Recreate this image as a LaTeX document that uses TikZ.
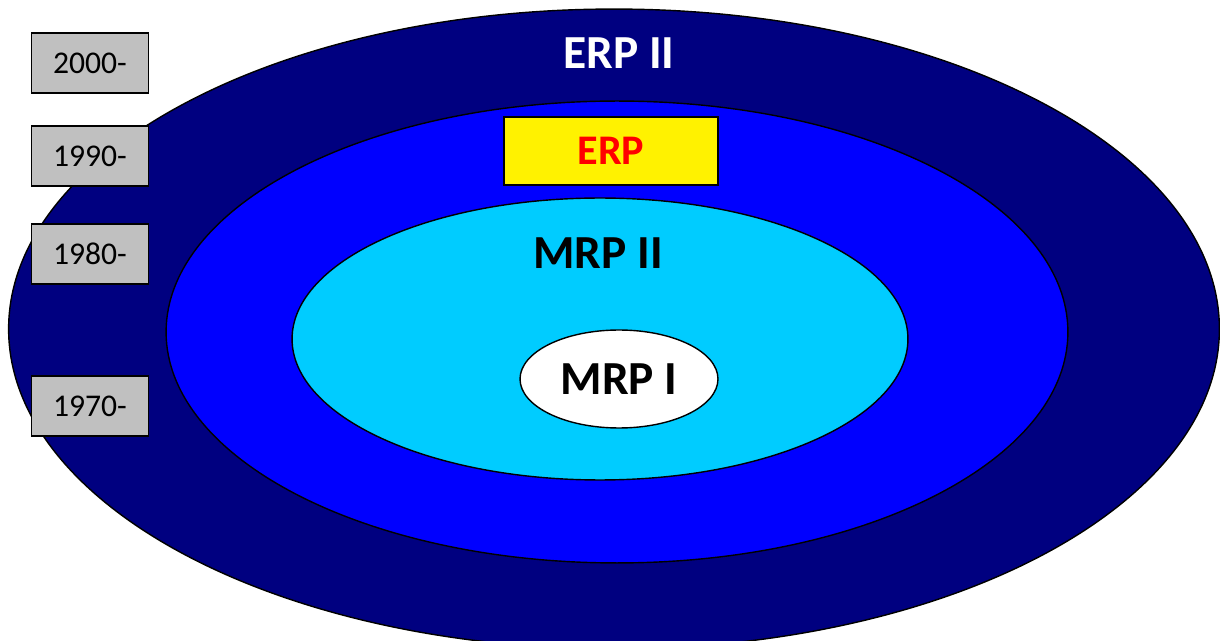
\documentclass[tikz,border=0pt]{standalone}
\usepackage{fontspec}
\setmainfont{Carlito}
\usetikzlibrary{shapes.geometric}

\definecolor{navyring}{RGB}{0,0,128}
\definecolor{bluering}{RGB}{0,0,255}
\definecolor{cyanring}{RGB}{0,204,255}
\definecolor{yearfill}{RGB}{192,192,192}

\tikzset{
	ring/.style={ellipse, draw=black, line width=0.8pt, inner sep=0pt},
	yearbox/.style={rectangle, draw=black, line width=0.8pt, fill=yearfill,
		minimum width=2.34cm, minimum height=1.2cm, font=\fontsize{18}{20}\selectfont},
	ringtext/.style={font=\bfseries\fontsize{27}{30}\selectfont}
}

\begin{document}
\begin{tikzpicture}[x=0.02cm,y=-0.02cm]
			\useasboundingbox (0,0) rectangle (1220,641);
			% rings, from outside in
			\node[ring, fill=navyring, minimum width=24.22cm, minimum height=12.8cm] (erpii) at (614,329) {};
			\node[ring, fill=bluering, minimum width=18.04cm, minimum height=9.24cm] (erp) at (617,332) {};
			\node[ring, fill=cyanring, minimum width=12.32cm, minimum height=5.64cm] (mrpii) at (600,339) {};
			\node[ring, fill=white, minimum width=3.96cm, minimum height=1.96cm] (mrpi) at (619,379) {};
			% labels
			\node[ringtext, text=white] (erpiitext) at (619,53) {ERP II};
			\node[rectangle, draw=black, line width=0.8pt, fill=yellow, minimum width=4.28cm, minimum height=1.36cm,
				text=red, font=\bfseries\fontsize{24}{26}\selectfont] (erpbox) at (611,151) {ERP};
			\node[ringtext] (mrpiitext) at (598,253) {MRP II};
			\node[ringtext] (mrpitext) at (mrpi) {MRP I};
			% years
			\node[yearbox] (y2000) at (90,63) {2000-};
			\node[yearbox] (y1990) at (90,156) {1990-};
			\node[yearbox] (y1980) at (90,254) {1980-};
			\node[yearbox] (y1970) at (90,406) {1970-};
			
		\end{tikzpicture}
\end{document}
